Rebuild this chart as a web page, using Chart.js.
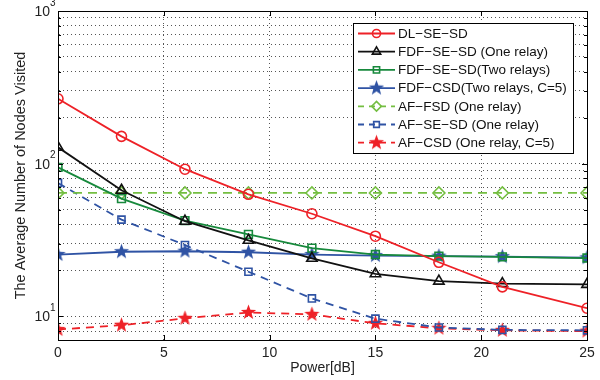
<!DOCTYPE html>
<html>
<head>
<meta charset="utf-8">
<script src="https://cdn.jsdelivr.net/npm/chart.js@4.4.1/dist/chart.umd.min.js"></script>
<style>
html, body { margin: 0; padding: 0; background: #fff; }
#wrap { width: 600px; height: 380px; }
</style>
</head>
<body>
<div id="wrap"><canvas id="graph" width="600" height="380"></canvas></div>
<script>
var g_font = "'Liberation Sans', Arial, Helvetica, sans-serif";

// data
var powerDb = [0, 3, 6, 9, 12, 15, 18, 21, 25];
var seriesNames = [
    "DL-SE-SD",
    "FDF-SE-SD (One relay)",
    "FDF-SE-SD(Two relays)",
    "FDF-CSD(Two relays, C=5)",
    "AF-FSD (One relay)",
    "AF-SE-SD (One relay)",
    "AF-CSD (One relay, C=5)"
];
var dlSeSd      = [266, 151, 92, 63, 47, 33.5, 22.6, 15.6, 11.3];
var fdfSeSdOne  = [128, 67, 42, 31.5, 24, 19, 17, 16.4, 16.2];
var fdfSeSdTwo  = [94.5, 59, 42.4, 34.4, 28, 25.4, 24.8, 24.5, 24.1];
var fdfCsdTwo   = [25.4, 26.5, 26.7, 26.3, 25.4, 25, 24.8, 24.6, 24.2];
var afFsd       = [64.3, 64.3, 64.3, 64.3, 64.3, 64.3, 64.3, 64.3, 64.3];
var afSeSd      = [74.8, 43, 29.3, 19.6, 13.1, 9.66, 8.45, 8.15, 8.1];
var afCsd       = [8.2, 8.75, 9.7, 10.6, 10.3, 9.0, 8.35, 8.1, 8.0];
var xTickValues = [0, 5, 10, 15, 20, 25];
var yTickValues = [10, 100, 1000];
var yTickExponents = ["1", "2", "3"];
var yGridValues = [7, 8, 9, 10, 20, 30, 40, 50, 60, 70, 80, 90, 100, 200, 300, 400, 500, 600, 700, 800, 900, 1000];

var g_red = "#ee2127";
var g_black = "#111111";
var g_green = "#17893c";
var g_blue = "#2f53a4";
var g_lightGreen = "#74be41";

function makeStar(color) {
    var c = document.createElement("canvas");
    c.width = 17; c.height = 17;
    var ctx = c.getContext("2d");
    ctx.fillStyle = color;
    ctx.beginPath();
    for (var i = 0; i < 10; i++) {
        var r = (i % 2 === 0) ? 8 : 3.3;
        var a = -Math.PI / 2 + i * Math.PI / 5;
        var px = 8.5 + r * Math.cos(a), py = 8.5 + r * Math.sin(a);
        if (i === 0) ctx.moveTo(px, py); else ctx.lineTo(px, py);
    }
    ctx.closePath();
    ctx.fill();
    return c;
}
var g_blueStar = makeStar(g_blue);
var g_redStar = makeStar(g_red);

function toPoints(values) {
    return values.map(function (v, i) { return { x: powerDb[i], y: v }; });
}

function makeSet(name, values, color, style, radius, dash) {
    return {
        label: name,
        data: toPoints(values),
        borderColor: color,
        borderWidth: 1.8,
        borderDash: dash,
        pointStyle: style,
        pointRadius: radius,
        pointBorderColor: color,
        pointBackgroundColor: "rgba(0,0,0,0)",
        pointBorderWidth: 1.6,
        tension: 0,
        fill: false
    };
}

var datasets = [
    makeSet(seriesNames[0], dlSeSd, g_red, "circle", 5, []),
    makeSet(seriesNames[1], fdfSeSdOne, g_black, "triangle", 6, []),
    makeSet(seriesNames[2], fdfSeSdTwo, g_green, "rect", 5.5, []),
    makeSet(seriesNames[3], fdfCsdTwo, g_blue, g_blueStar, 8, []),
    makeSet(seriesNames[4], afFsd, g_lightGreen, "rectRot", 6, [9, 6]),
    makeSet(seriesNames[5], afSeSd, g_blue, "rect", 5, [8, 6]),
    makeSet(seriesNames[6], afCsd, g_red, g_redStar, 8, [8, 6])
];

// box, inner tick marks, y labels with exponents, legend
var frameLegendPlugin = {
    id: "frameLegend",
    afterDraw: function (chart) {
        var ctx = chart.ctx;
        var area = chart.chartArea;
        var xs = chart.scales.x, ys = chart.scales.y;
        ctx.save();
        ctx.strokeStyle = "#000";
        ctx.lineWidth = 1;
        ctx.setLineDash([]);
        ctx.beginPath();
        for (var i = 1; i < xTickValues.length - 1; i++) {
            var px = Math.round(xs.getPixelForValue(xTickValues[i])) + 0.5;
            ctx.moveTo(px, area.bottom); ctx.lineTo(px, area.bottom - 5);
            ctx.moveTo(px, area.top); ctx.lineTo(px, area.top + 5);
        }
        for (var j = 0; j < yGridValues.length; j++) {
            var len = yTickValues.indexOf(yGridValues[j]) >= 0 ? 5 : 3;
            var py = Math.round(ys.getPixelForValue(yGridValues[j])) + 0.5;
            ctx.moveTo(area.left, py); ctx.lineTo(area.left + len, py);
            ctx.moveTo(area.right, py); ctx.lineTo(area.right - len, py);
        }
        ctx.stroke();
        ctx.strokeRect(Math.round(area.left) + 0.5, Math.round(area.top) + 0.5,
            Math.round(area.right - area.left), Math.round(area.bottom - area.top));

        // y tick labels 10^n
        ctx.fillStyle = "#222";
        ctx.textBaseline = "middle";
        for (var k = 0; k < yTickValues.length; k++) {
            var ty = ys.getPixelForValue(yTickValues[k]);
            ctx.font = "10px " + g_font;
            ctx.textAlign = "left";
            ctx.fillText(yTickExponents[k], area.left - 8, ty - 8);
            ctx.font = "14px " + g_font;
            ctx.textAlign = "right";
            ctx.fillText("10", area.left - 8, ty + 1);
        }

        // legend
        var lx = 353, ly = 23, lw = 220, lh = 130;
        ctx.fillStyle = "#fff";
        ctx.fillRect(lx, ly, lw, lh);
        ctx.strokeStyle = "#000";
        ctx.strokeRect(lx + 0.5, ly + 0.5, lw, lh);
        chart.data.datasets.forEach(function (ds, idx) {
            var cy = ly + 10.5 + idx * 18.2;
            ctx.save();
            ctx.strokeStyle = ds.borderColor;
            ctx.lineWidth = ds.borderWidth;
            ctx.setLineDash(ds.borderDash.length ? [6, 5] : []);
            ctx.beginPath();
            ctx.moveTo(358, cy); ctx.lineTo(395, cy);
            ctx.stroke();
            ctx.setLineDash([]);
            ctx.fillStyle = ds.pointBackgroundColor;
            ctx.lineWidth = ds.pointBorderWidth;
            Chart.helpers.drawPoint(ctx, {
                pointStyle: ds.pointStyle,
                radius: typeof ds.pointStyle === "string" ? ds.pointRadius * 0.8 : ds.pointRadius,
                borderWidth: ds.pointBorderWidth,
                rotation: 0
            }, 376.5, cy);
            ctx.restore();
            ctx.fillStyle = "#111";
            ctx.font = "13.5px " + g_font;
            ctx.textAlign = "left";
            ctx.textBaseline = "middle";
            // the original renders hyphens as wide minus signs
            ctx.fillText(ds.label.replace(/-/g, "\u2212"), 398, cy + 0.5);
        });
        ctx.restore();
    }
};

var ctx = document.getElementById("graph").getContext("2d");
var g_chart = new Chart(ctx, {
    type: "line",
    data: { datasets: datasets },
    plugins: [frameLegendPlugin],
    options: {
        responsive: false,
        animation: false,
        devicePixelRatio: 1,
        layout: { padding: { top: 11, right: 13, left: 0, bottom: 0 } },
        plugins: { legend: { display: false }, tooltip: { enabled: false } },
        scales: {
            x: {
                type: "linear",
                min: 0,
                max: 25,
                afterBuildTicks: function (scale) {
                    scale.ticks = xTickValues.map(function (v) { return { value: v }; });
                },
                afterFit: function (scale) { scale.height = 40; },
                grid: { color: "#555", lineWidth: 1, drawTicks: false },
                border: { display: true, color: "#000", width: 1, dash: [1, 3] },
                ticks: { color: "#222", padding: 5, font: { family: g_font, size: 14 }, maxRotation: 0 },
                title: { display: true, text: "Power[dB]", color: "#222", font: { family: g_font, size: 14 }, padding: { top: 0, bottom: 3 } }
            },
            y: {
                type: "logarithmic",
                min: 7,
                max: 1000,
                afterBuildTicks: function (scale) {
                    scale.ticks = yGridValues.map(function (v) { return { value: v }; });
                },
                afterFit: function (scale) { scale.width = 58; },
                grid: { color: "#555", lineWidth: 1, drawTicks: false },
                border: { display: true, color: "#000", width: 1, dash: [1, 3] },
                ticks: { display: false },
                title: { display: true, text: "The Average Number of Nodes Visited", color: "#222", font: { family: g_font, size: 14.5 }, padding: { top: 12, bottom: 0 } }
            }
        }
    }
});
</script>
</body>
</html>
